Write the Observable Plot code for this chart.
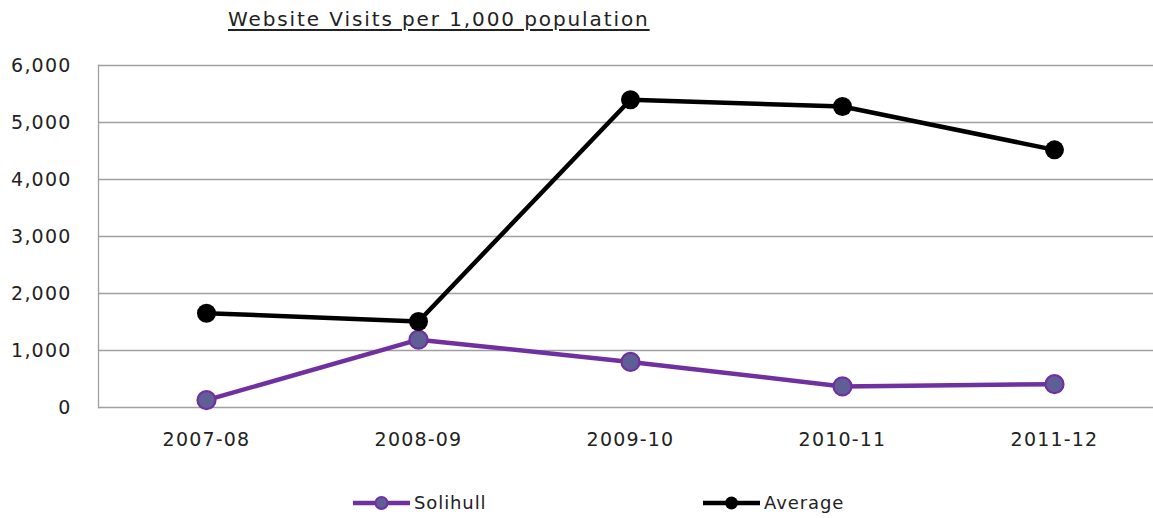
<!DOCTYPE html>
<html><head><meta charset="utf-8">
<script src="https://cdn.jsdelivr.net/npm/d3@7"></script>
<script src="https://cdn.jsdelivr.net/npm/@observablehq/plot@0.6"></script>
<style>
body{margin:0;background:#fff;font-family:"DejaVu Sans",sans-serif;color:#222;width:1153px;overflow:hidden;}
#title{height:44px;position:relative;}
#title span{position:absolute;left:228px;top:7px;font-size:20px;text-decoration:underline;text-underline-offset:3px;letter-spacing:1.9px;white-space:nowrap;}
#chart svg{display:block;}
#legend{height:38px;position:relative;}
#legend svg{display:block;}
</style></head><body>
<div id="title"><span>Website Visits per 1,000 population</span></div>
<div id="chart"></div>
<div id="legend"></div>
<script>
const categories = ["2007-08", "2008-09", "2009-10", "2010-11", "2011-12"];
const solihull = [130, 1190, 800, 370, 410];
const average = [1655, 1510, 5400, 5280, 4520];
const yTicks = [0, 1000, 2000, 3000, 4000, 5000, 6000];
const seriesNames = ["Solihull", "Average"];
const lineColors = ["#7030a0", "#000000"];
const markerFills = ["#5f5f96", "#000000"];

const solRows = categories.map((c, i) => ({cat: c, value: solihull[i]}));
const avgRows = categories.map((c, i) => ({cat: c, value: average[i]}));

const chart = Plot.plot({
  width: 1153, height: 436,
  marginTop: 21, marginBottom: 73, marginLeft: 98, marginRight: 0,
  style: {fontFamily: "DejaVu Sans", fontSize: "19px", color: "#222", background: "#fff", letterSpacing: "1.2px"},
  x: {type: "point", domain: categories, range: [204, 1055], padding: 0, label: null, tickSize: 0, tickPadding: 25},
  y: {domain: [0, 6000], ticks: yTicks, tickFormat: d3.format(","), label: null, tickSize: 0, tickPadding: 27},
  marks: [
    Plot.ruleY(yTicks, {stroke: "#a0a0a0", strokeWidth: 1.3, strokeOpacity: 1}),
    Plot.frame({anchor: "left", stroke: "#a0a0a0", strokeWidth: 1.3}),
    Plot.line(solRows, {x: "cat", y: "value", stroke: lineColors[0], strokeWidth: 4.5}),
    Plot.dot(solRows, {x: "cat", y: "value", r: 9, fill: markerFills[0], stroke: lineColors[0], strokeWidth: 2.2}),
    Plot.line(avgRows, {x: "cat", y: "value", stroke: lineColors[1], strokeWidth: 4.5}),
    Plot.dot(avgRows, {x: "cat", y: "value", r: 9.5, fill: markerFills[1], stroke: "none"})
  ]
});
document.getElementById("chart").appendChild(chart);

// legend
const legendX = [353, 703];
const svg = d3.select("#legend").append("svg").attr("width", 1153).attr("height", 38);
seriesNames.forEach((name, i) => {
  const g = svg.append("g").attr("transform", `translate(${legendX[i]},23)`);
  g.append("line").attr("x1", 0).attr("x2", 57).attr("y1", 0).attr("y2", 0)
    .attr("stroke", lineColors[i]).attr("stroke-width", 4.5);
  g.append("circle").attr("cx", 28.5).attr("cy", 0).attr("r", i === 0 ? 6 : 6.5)
    .attr("fill", markerFills[i]).attr("stroke", i === 0 ? lineColors[i] : "none").attr("stroke-width", 2);
  g.append("text").attr("x", 61).attr("y", 0).attr("dy", "0.35em")
    .attr("font-family", "DejaVu Sans").attr("font-size", 18).attr("letter-spacing", "0.9px")
    .attr("fill", "#222").text(name);
});
</script>
</body></html>
